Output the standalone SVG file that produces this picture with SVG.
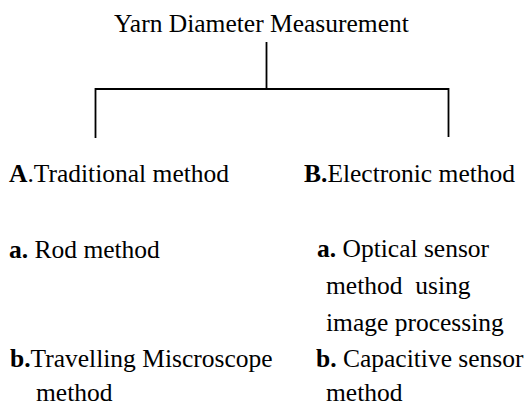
<svg xmlns="http://www.w3.org/2000/svg" width="528" height="407" viewBox="0 0 528 407">
<style>
text{font-family:"Liberation Serif","Times New Roman",serif;font-size:25.5px;fill:#000;white-space:pre}
.b{font-weight:bold}
.ln{stroke:#000;stroke-width:1.8;fill:none}
</style>
<rect width="528" height="407" fill="#fff"/>
<g id="connectors">
<path class="ln" d="M266.5 42V89M95.5 89H448.5M95.5 88V138M448.5 88V137"/>
</g>
<g id="root"><text x="114" y="32">Yarn Diameter Measurement</text></g>
<g id="traditional"><text x="9" y="182"><tspan class="b">A</tspan>.Traditional method</text></g>
<g id="electronic"><text x="304" y="182"><tspan class="b">B.</tspan>Electronic method</text></g>
<g id="rod"><text x="9" y="258"><tspan class="b">a.</tspan> Rod method</text></g>
<g id="travelling"><text x="10" y="367"><tspan class="b">b.</tspan>Travelling Miscroscope</text><text x="36" y="401">method</text></g>
<g id="optical"><text x="317" y="257"><tspan class="b">a.</tspan> Optical sensor</text><text x="326" y="294">method  using</text><text x="326" y="331">image processing</text></g>
<g id="capacitive"><text x="316" y="367"><tspan class="b">b.</tspan> Capacitive sensor</text><text x="326" y="401">method</text></g>
</svg>
